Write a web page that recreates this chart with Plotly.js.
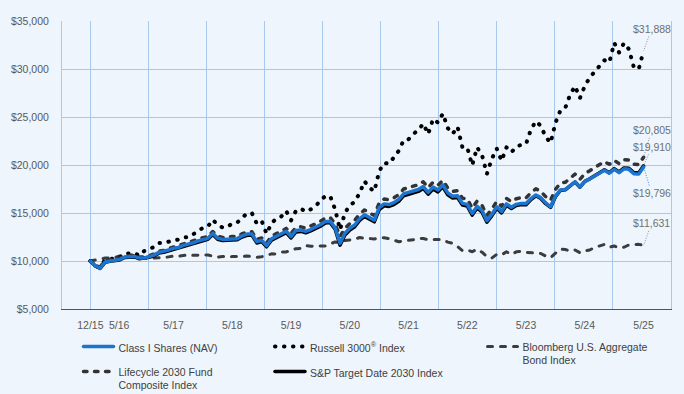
<!DOCTYPE html>
<html>
<head>
<meta charset="utf-8">
<script src="https://cdn.plot.ly/plotly-3.0.1.min.js"></script>
<style>
  html, body { margin: 0; padding: 0; background: #EEF5FC; }
  #chart { width: 684px; height: 394px; }
</style>
</head>
<body>
<div id="chart"></div>
<script>
// Month-end dates 12/15 ... 5/25 (index positions on the x axis)
const monthLabels = [];
(function () {
  let y = 2015, m = 12;
  while (y < 2025 || (y === 2025 && m <= 5)) {
    monthLabels.push(m + '/' + String(y).slice(2));
    m++; if (m > 12) { m = 1; y++; }
  }
})();

const tickLabels = ['12/15', '5/16', '5/17', '5/18', '5/19', '5/20', '5/21', '5/22', '5/23', '5/24', '5/25'];

const classI = [10000,
  9500, 9250, 9900, 10000, 10080, 10150, 10420, 10450, 10480, 10300, 10320, 10450,
  10610, 10900, 10980, 11150, 11320, 11410, 11630, 11720, 11900, 12090, 12260, 12360,
  12880, 12380, 12250, 12270, 12350, 12330, 12620, 12800, 12820, 12020, 12150, 11600,
  12300, 12570, 12780, 13100, 12550, 13180, 13230, 13080, 13280, 13520, 13780, 14100,
  14150, 13450, 11850, 12900, 13420, 13750, 14400, 14820, 14500, 14250, 15550, 15950,
  15880, 16080, 16420, 17000, 17150, 17300, 17450, 17750, 17150, 17700, 17400, 17920,
  17100, 16750, 16800, 16000, 15900, 14950, 15700, 15250, 14200, 14850, 15650, 15150,
  15950, 15600, 15900, 16000, 15980, 16500, 16880, 16600, 16050, 15650, 16750, 17400,
  17450, 17850, 18250, 17700, 18300, 18550, 18850, 19150, 19450, 19150, 19550, 19200,
  19600, 19550, 19100, 19050, 19796];

const russell3000 = [10000,
  9434, 9429, 10091, 10152, 10332, 10353, 10761, 10787, 10802, 10565, 11038, 11252,
  11461, 11882, 11887, 12010, 12127, 12235, 12460, 12482, 12784, 13061, 13450, 13587,
  14300, 13770, 13491, 13542, 13922, 14010, 14470, 14968, 14991, 13886, 14160, 12840,
  13938, 14423, 14640, 15220, 14233, 15230, 15451, 15133, 15380, 15707, 16303, 16765,
  16743, 15369, 13254, 15006, 15806, 16164, 17077, 18307, 17645, 17259, 19356, 20219,
  20126, 20744, 21481, 22585, 22689, 23248, 23636, 24312, 23216, 24794, 24413, 25348,
  23845, 23240, 23989, 21826, 21795, 19967, 21840, 21025, 19073, 20634, 21711, 20435,
  21837, 21328, 21894, 22111, 22206, 23719, 24563, 24084, 22934, 22304, 24383, 25670,
  25940, 27338, 28216, 26969, 28236, 29107, 29665, 30298, 30918, 30690, 32725, 31718,
  32714, 32076, 30196, 29986, 31888];

const bloombergAgg = [10000,
  10138, 10210, 10304, 10343, 10346, 10532, 10598, 10586, 10580, 10500, 10251, 10265,
  10286, 10355, 10350, 10430, 10510, 10499, 10544, 10639, 10588, 10594, 10580, 10629,
  10507, 10407, 10474, 10396, 10470, 10457, 10459, 10526, 10459, 10376, 10438, 10630,
  10743, 10736, 10942, 10946, 11140, 11281, 11305, 11598, 11537, 11571, 11566, 11557,
  11779, 11991, 11920, 12132, 12189, 12266, 12449, 12348, 12342, 12286, 12407, 12424,
  12335, 12157, 12005, 12100, 12140, 12225, 12362, 12339, 12231, 12227, 12264, 12232,
  11969, 11835, 11506, 11070, 11141, 10966, 11234, 10916, 10444, 10308, 10687, 10639,
  10967, 10683, 10954, 11021, 10901, 10862, 10854, 10785, 10511, 10345, 10814, 11228,
  11198, 11040, 11142, 10860, 11045, 11150, 11411, 11575, 11730, 11439, 11560, 11370,
  11430, 11681, 11686, 11732, 11631];

const lifecycle2030 = [10000,
  9580, 9380, 10050, 10150, 10220, 10300, 10560, 10580, 10610, 10420, 10430, 10560,
  10730, 11030, 11110, 11290, 11460, 11560, 11790, 11880, 12070, 12260, 12430, 12540,
  13070, 12580, 12450, 12470, 12560, 12540, 12840, 13020, 13040, 12260, 12400, 11880,
  12580, 12860, 13080, 13400, 12870, 13500, 13560, 13420, 13620, 13870, 14140, 14470,
  14520, 13850, 12550, 13400, 13900, 14230, 14900, 15320, 15000, 14750, 16050, 16450,
  16380, 16580, 16920, 17500, 17650, 17800, 17950, 18250, 17650, 18200, 17900, 18400,
  17600, 17250, 17320, 16550, 16450, 15500, 16250, 15800, 14750, 15400, 16200, 15700,
  16520, 16180, 16480, 16600, 16580, 17120, 17520, 17250, 16700, 16320, 17450, 18120,
  18200, 18620, 19050, 18500, 19120, 19400, 19720, 20040, 20360, 20070, 20480, 20150,
  20560, 20520, 20080, 20050, 20805];

const spTargetDate2030 = [10000,
  9480, 9230, 9860, 9960, 10030, 10100, 10360, 10390, 10420, 10230, 10260, 10380,
  10530, 10820, 10900, 11060, 11230, 11320, 11540, 11630, 11800, 11990, 12160, 12260,
  12770, 12270, 12140, 12160, 12230, 12210, 12500, 12680, 12700, 11880, 12030, 11480,
  12170, 12440, 12650, 12960, 12400, 13030, 13080, 12930, 13130, 13370, 13630, 13950,
  14000, 13300, 11650, 12700, 13230, 13570, 14220, 14650, 14330, 14080, 15350, 15750,
  15680, 15880, 16220, 16800, 16950, 17100, 17250, 17560, 16960, 17500, 17200, 17720,
  16900, 16560, 16620, 15820, 15720, 14780, 15530, 15080, 14040, 14700, 15500, 15010,
  15810, 15470, 15780, 15880, 15860, 16400, 16790, 16510, 15970, 15580, 16690, 17350,
  17410, 17820, 18230, 17690, 18300, 18560, 18880, 19190, 19500, 19200, 19620, 19280,
  19690, 19650, 19220, 19170, 19910];

const seriesNames = {
  classI: 'Class I Shares (NAV)',
  russell: 'Russell 3000<sup>®</sup> Index',
  agg: 'Bloomberg U.S. Aggregate<br>Bond Index',
  life: 'Lifecycle 2030 Fund<br>Composite Index',
  sp: 'S&P Target Date 2030 Index'
};

const xIdx = monthLabels.map((_, i) => i);
const last = xIdx.length - 1;
// tick label positions (the 5/16 label is nudged right, as in the reference, so it clears 12/15)
const tickPositions = tickLabels.map((t, i) => monthLabels.indexOf(t) + (i === 1 ? 0.9 : 0));

const BLUE = '#1B74CF';
const DARK = '#3C3C3C';

const traces = [
  { x: xIdx, y: bloombergAgg, name: seriesNames.agg, type: 'scatter', mode: 'lines',
    line: { color: DARK, width: 3, dash: '5px,8px' }, legend: 'legend3', legendgroup: 'g3' },
  { x: xIdx, y: russell3000, name: seriesNames.russell, type: 'scatter', mode: 'lines',
    line: { color: '#000000', width: 4, dash: '0.5px,8.5px' }, legend: 'legend2', legendrank: 1, legendgroup: 'g2' },
  { x: xIdx, y: lifecycle2030, name: seriesNames.life, type: 'scatter', mode: 'lines',
    line: { color: '#333333', width: 3.5, dash: '3.5px,7.5px' }, legend: 'legend', legendrank: 2, legendgroup: 'g4' },
  { x: xIdx, y: spTargetDate2030, name: seriesNames.sp, type: 'scatter', mode: 'lines',
    line: { color: '#000000', width: 3.5 }, legend: 'legend2', legendrank: 2, legendgroup: 'g5' },
  { x: xIdx, y: classI, name: seriesNames.classI, type: 'scatter', mode: 'lines',
    line: { color: BLUE, width: 3.5 }, legend: 'legend', legendrank: 1, legendgroup: 'g1' }
];

const fmt = v => '$' + v.toLocaleString('en-US');
const annFont = { family: 'Liberation Sans, Arial, sans-serif', size: 10.5, color: '#707070' };
function endLabel(arr, ax, ay, color) {
  return { x: last, y: arr[last], xref: 'x', yref: 'y', text: fmt(arr[last]),
    showarrow: true, arrowhead: 0, arrowwidth: 0.8, arrowcolor: color || '#777777',
    ax: ax, ay: ay, font: annFont, standoff: 0, startstandoff: 0 };
}

const legendFont = { family: 'Liberation Sans, Arial, sans-serif', size: 10.5, color: '#404040' };
const legendBase = { orientation: 'v', bgcolor: 'rgba(0,0,0,0)', font: legendFont,
  xref: 'paper', yref: 'container',
  xanchor: 'left', yanchor: 'top', valign: 'top', tracegroupgap: 6, itemwidth: 30 };

const gridColor = '#A9C8EE';
const tickFont = { family: 'Liberation Sans, Arial, sans-serif', size: 10.5, color: '#595959' };

const layout = {
  width: 684, height: 394,
  margin: { l: 62, r: 13, t: 21, b: 85 },
  paper_bgcolor: '#EEF5FC', plot_bgcolor: '#EEF5FC',
  showlegend: true,
  xaxis: {
    range: [-5.79, 118.6], tickmode: 'array', tickvals: tickPositions, ticktext: tickLabels,
    tickangle: 0, automargin: false,
    showgrid: false, zeroline: false, ticks: '', tickfont: tickFont, ticklabelstandoff: 6,
    showline: true, linecolor: '#555555', linewidth: 1,
    minor: { tickmode: 'linear', tick0: 0.01, dtick: 11.86, showgrid: true, gridcolor: gridColor, gridwidth: 1, ticks: '' }
  },
  yaxis: {
    range: [5000, 35000], dtick: 5000, tick0: 5000, tickformat: '$,.0f', tickfont: tickFont,
    automargin: false,
    showgrid: true, gridcolor: gridColor, gridwidth: 1, zeroline: false, ticks: '',
    showline: true, linecolor: gridColor, linewidth: 1, mirror: true, ticklabelstandoff: 10
  },
  legend: Object.assign({}, legendBase, { x: 0.0271, y: 0.1546 }),
  legend2: Object.assign({}, legendBase, { x: 0.3415, y: 0.1546 }),
  legend3: Object.assign({}, legendBase, { x: 0.6905, y: 0.1546 }),
  annotations: [
    endLabel(russell3000, 8, -22),
    endLabel(lifecycle2030, 8, -27),
    endLabel(spTargetDate2030, 8, -19),
    endLabel(classI, 8, 26, BLUE),
    endLabel(bloombergAgg, 8, -22)
  ]
};

Plotly.newPlot('chart', traces, layout, { staticPlot: true, displayModeBar: false }).then(gd => {
  gd.querySelectorAll('path.js-line').forEach(p => {
    p.style.strokeLinecap = 'round';
    p.style.strokeLinejoin = 'round';
  });
  gd.querySelectorAll('.annotation-arrow-g path').forEach(p => {
    p.style.strokeDasharray = '1px,1.5px';
  });
});
</script>
</body>
</html>
